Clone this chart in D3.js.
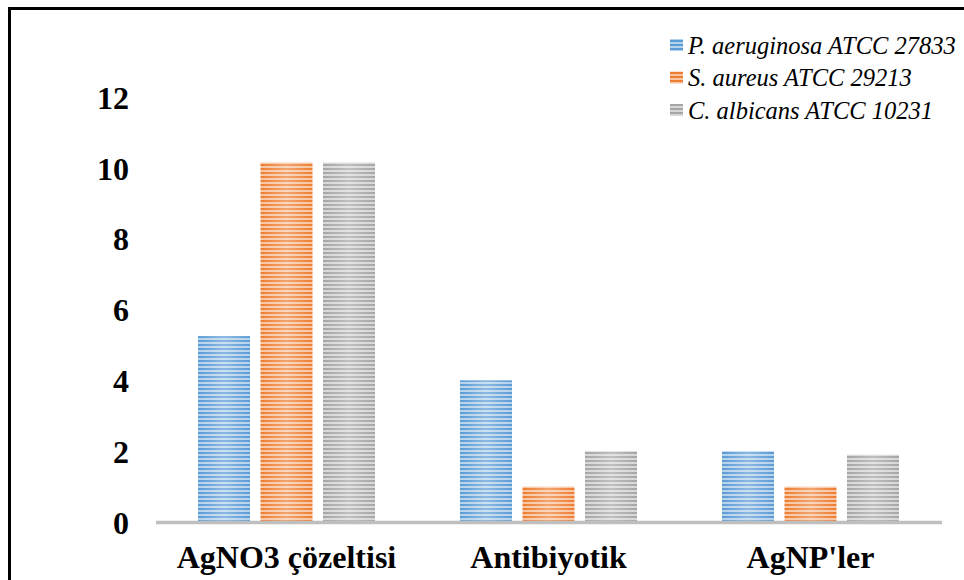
<!DOCTYPE html>
<html><head><meta charset="utf-8">
<script src="https://cdn.jsdelivr.net/npm/d3@7"></script>
<style>body{margin:0;background:#fff}svg{display:block}</style>
</head><body>
<script>
const categories = ["AgNO3 çözeltisi", "Antibiyotik", "AgNP'ler"];
const seriesNames = ["P. aeruginosa ATCC 27833", "S. aureus ATCC 29213", "C. albicans ATCC 10231"];
const pAeruginosa = [5.25, 4.0, 2.0];
const sAureus = [10.15, 1.0, 1.0];
const cAlbicans = [10.15, 2.0, 1.9];
const yTicks = [0, 2, 4, 6, 8, 10, 12];
const colors = ["#5B9BD5", "#ED7D31", "#A5A5A5"];
const seriesValues = [pAeruginosa, sAureus, cAlbicans];
const FONT = "Liberation Serif";

const W = 964, H = 580;
const svg = d3.select("body").append("svg").attr("width", W).attr("height", H);
const defs = svg.append("defs");

colors.forEach((c, i) => {
  const p = defs.append("pattern").attr("id", "pat" + i).attr("patternUnits", "userSpaceOnUse")
    .attr("width", 8).attr("height", 4);
  p.append("rect").attr("width", 8).attr("height", 4).attr("fill", d3.interpolateRgb(c, "#fff")(0.55));
  p.append("rect").attr("width", 8).attr("height", 2).attr("fill", c);
});
const g = defs.append("linearGradient").attr("id", "sheen").attr("x1", 0).attr("x2", 1).attr("y1", 0).attr("y2", 0);
g.append("stop").attr("offset", "0%").attr("stop-color", "#fff").attr("stop-opacity", 0);
g.append("stop").attr("offset", "50%").attr("stop-color", "#fff").attr("stop-opacity", 0.3);
g.append("stop").attr("offset", "100%").attr("stop-color", "#fff").attr("stop-opacity", 0);

// frame
svg.append("line").attr("x1", 9.5).attr("x2", W).attr("y1", 8.5).attr("y2", 8.5).attr("stroke", "#000").attr("stroke-width", 3);
svg.append("line").attr("x1", 9.5).attr("x2", 9.5).attr("y1", 7).attr("y2", H).attr("stroke", "#000").attr("stroke-width", 3);

const x0 = d3.scaleBand().domain(categories).range([155.5, 941.5]).paddingInner(0).paddingOuter(0);
const y = d3.scaleLinear().domain([0, 12]).range([522, 97]);
const barW = 52, gap = 10.5;

// y tick labels
const yAxis = d3.axisLeft(y).tickValues(yTicks).tickSize(0).tickPadding(0);
const ya = svg.append("g").attr("transform", "translate(129,0)").call(yAxis);
ya.attr("font-family", FONT).attr("font-size", 32).attr("font-weight", "bold");
ya.select(".domain").remove();
ya.selectAll("text").attr("font-family", FONT)
  .attr("font-weight", "bold").attr("font-size", 32).attr("fill", "#000").attr("dy", "0.35em");

// bars
categories.forEach((cat, ci) => {
  const cx = x0(cat) + x0.bandwidth() / 2;
  seriesValues.forEach((vals, si) => {
    const bx = cx - (1.5 * barW + gap) + si * (barW + gap);
    svg.append("rect").attr("x", bx).attr("y", y(vals[ci])).attr("width", barW)
      .attr("height", y(0) - y(vals[ci])).attr("fill", `url(#pat${si})`);
    svg.append("rect").attr("x", bx).attr("y", y(vals[ci])).attr("width", barW)
      .attr("height", y(0) - y(vals[ci])).attr("fill", "url(#sheen)");
  });
});

// x axis
const xAxis = d3.axisBottom(x0).tickSize(0).tickPadding(23);
const xa = svg.append("g").attr("transform", `translate(0,${y(0)})`).call(xAxis);
xa.attr("font-family", FONT).attr("font-size", 32).attr("font-weight", "bold");
xa.select(".domain").attr("stroke", "#BFBFBF").attr("stroke-width", 3.5);
xa.selectAll("text").attr("font-family", FONT)
  .attr("font-weight", "bold").attr("font-size", 32).attr("fill", "#000");

// legend
const leg = svg.append("g");
seriesNames.forEach((n, i) => {
  const ly = 45 + i * 32.5;
  leg.append("rect").attr("x", 670).attr("y", ly - 6).attr("width", 13).attr("height", 12).attr("fill", `url(#pat${i})`);
  leg.append("text").attr("x", 688).attr("y", ly).attr("dy", "0.35em")
    .attr("font-family", FONT).attr("font-style", "italic")
    .attr("font-size", 24.5).attr("fill", "#000").text(n);
});
</script>
</body></html>
